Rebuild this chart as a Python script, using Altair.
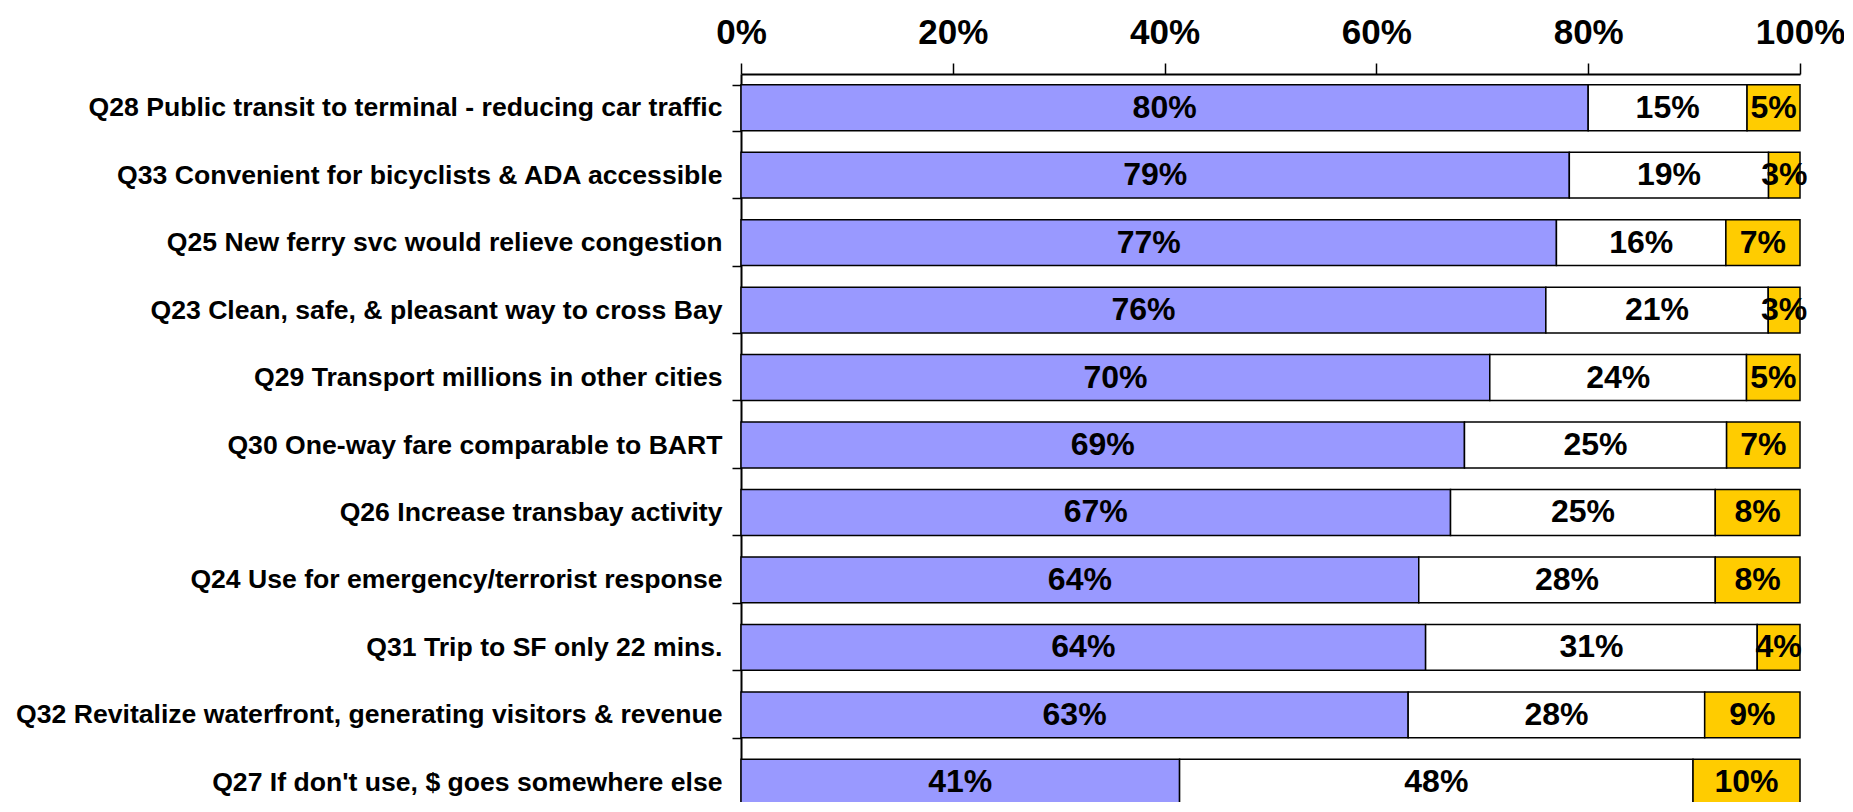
import altair as alt
import pandas as pd

questions = [
    "Q28 Public transit to terminal - reducing car traffic",
    "Q33 Convenient for bicyclists & ADA accessible",
    "Q25 New ferry svc would relieve congestion",
    "Q23 Clean, safe, & pleasant way to cross Bay",
    "Q29 Transport millions in other cities",
    "Q30 One-way fare comparable to BART",
    "Q26 Increase transbay activity",
    "Q24 Use for emergency/terrorist response",
    "Q31 Trip to SF only 22 mins.",
    "Q32 Revitalize waterfront, generating visitors & revenue",
    "Q27 If don't use, $ goes somewhere else",
]
agree = [80, 79, 77, 76, 70, 69, 67, 64, 64, 63, 41]
disagree = [15, 19, 16, 21, 24, 25, 25, 28, 31, 28, 48]
dontknow = [5, 3, 7, 3, 5, 7, 8, 8, 4, 9, 10]

series = ["Agree", "Disagree", "Don't know"]
colors = ["#9999FF", "#FFFFFF", "#FFCC00"]

rows = []
for i, q in enumerate(questions):
    for j, (s, v) in enumerate(zip(series, [agree[i], disagree[i], dontknow[i]])):
        rows.append({"q": q, "series": s, "order": j, "value": v, "label": f"{v}%"})
df = pd.DataFrame(rows)

LABEL_FONT = "Liberation Sans, Arial"

base = alt.Chart(df).transform_stack(
    stack="value",
    groupby=["q"],
    as_=["x0", "x1"],
    offset="normalize",
    sort=[alt.SortField("order", "ascending")],
).transform_calculate(mid="(datum.x0 + datum.x1) / 2")

y_scale = alt.Scale(paddingInner=0.32, paddingOuter=0.16, range=[0, 742])

y_enc = alt.Y(
    "q:N",
    sort=questions,
    title=None,
    scale=y_scale,
    axis=alt.Axis(
        labelFont=LABEL_FONT,
        labelFontSize=26.6,
        labelFontWeight="bold",
        labelColor="black",
        labelLimit=1000,
        labelPadding=10,
        tickBand="extent",
        tickSize=9,
        tickColor="black",
        tickWidth=1.5,
        domainColor="black",
        domainWidth=2,
    ),
)

bars = base.mark_bar(stroke="black", strokeWidth=1.5).encode(
    y=y_enc,
    x=alt.X(
        "x0:Q",
        scale=alt.Scale(domain=[0, 1], nice=False),
        title=None,
        axis=alt.Axis(
            orient="top",
            format=".0%",
            values=[0, 0.2, 0.4, 0.6, 0.8, 1.0],
            labelFont=LABEL_FONT,
            labelFontSize=35,
            labelFontWeight="bold",
            labelColor="black",
            labelPadding=13,
            labelFlush=False,
            tickSize=11,
            tickColor="black",
            tickWidth=1.5,
            domainColor="black",
            domainWidth=2,
            grid=False,
        ),
    ),
    x2="x1:Q",
    color=alt.Color(
        "series:N",
        scale=alt.Scale(domain=series, range=colors),
        legend=None,
    ),
)

text = base.mark_text(
    font="Liberation Sans, Arial",
    fontSize=32,
    fontWeight="bold",
    color="black",
    align="center",
    baseline="middle",
).encode(
    y=alt.Y("q:N", sort=questions),
    x=alt.X("mid:Q"),
    text="label:N",
)

chart = (
    alt.layer(bars, text)
    .properties(
        width=1059,
        height=728,
        autosize=alt.AutoSizeParams(type="none"),
        padding={"left": 733, "top": 66, "right": 44, "bottom": 0},
    )
    .configure_view(stroke=None)
)

chart.save("out.html", embed_options={"renderer": "svg", "actions": False})
